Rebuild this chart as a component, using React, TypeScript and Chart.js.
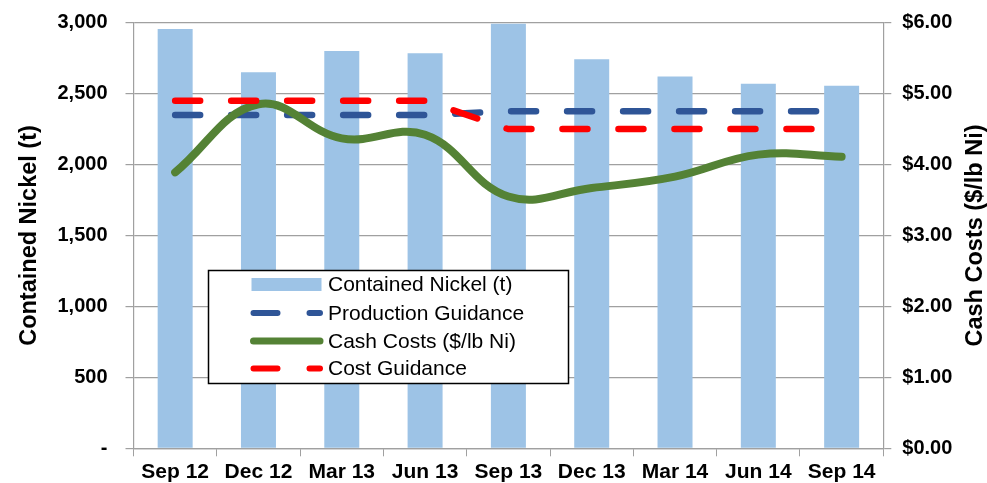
import React, { useEffect, useRef } from "react";
import { Chart, registerables } from "chart.js";

Chart.register(...registerables);

const categories = ["Sep 12", "Dec 12", "Mar 13", "Jun 13", "Sep 13", "Dec 13", "Mar 14", "Jun 14", "Sep 14"];
const containedNickel = [2955, 2650, 2800, 2785, 2992, 2742, 2621, 2569, 2555];
const productionGuidance = [2350, 2350, 2350, 2350, 2375, 2375, 2375, 2375, 2375];
const cashCosts = [3.89, 4.85, 4.37, 4.42, 3.55, 3.67, 3.83, 4.14, 4.11];
const costGuidance = [4.9, 4.9, 4.9, 4.9, 4.5, 4.5, 4.5, 4.5, 4.5];
const leftTitle = "Contained Nickel (t)";
const rightTitle = "Cash Costs ($/lb Ni)";

const FONT = "'Liberation Sans', Arial, Helvetica, sans-serif";
const GRID = "#a0a0a0";
const BAR = "#9dc3e6";
const BLUE = "#2f5597";
const GREEN = "#548235";
const RED = "#ff0000";

const rightTitlePlugin = {
  id: "rightTitle",
  afterDraw(chart: any) {
    const ctx = chart.ctx;
    const area = chart.chartArea;
    ctx.save();
    ctx.translate(976, (area.top + area.bottom) / 2);
    ctx.rotate(-Math.PI / 2);
    ctx.fillStyle = "#000";
    ctx.font = `bold 23.5px ${FONT}`;
    ctx.textAlign = "center";
    ctx.textBaseline = "middle";
    ctx.fillText(rightTitle, 0, 0);
    ctx.restore();
  },
};

const legendPlugin = {
  id: "boxLegend",
  afterDraw(chart: any) {
    const ctx = chart.ctx;
    const x0 = 208.5, y0 = 270.5, w = 360, h = 113;
    ctx.save();
    ctx.fillStyle = "#ffffff";
    ctx.fillRect(x0, y0, w, h);
    ctx.strokeStyle = "#000000";
    ctx.lineWidth = 1.5;
    ctx.strokeRect(x0, y0, w, h);
    const ds = chart.data.datasets;
    const order = [0, 1, 2, 3];
    const rowY = [284.5, 313, 341, 368.5];
    order.forEach((di, i) => {
      const d = ds[di];
      const y = rowY[i];
      if (d.type === "bar") {
        ctx.fillStyle = d.backgroundColor;
        ctx.fillRect(251.5, y - 6.5, 70, 13);
      } else {
        ctx.strokeStyle = d.borderColor;
        ctx.lineWidth = d.borderDash ? 6 : 7;
        ctx.lineCap = "round";
        ctx.setLineDash(d.borderDash ? [24, 32] : []);
        ctx.beginPath();
        ctx.moveTo(253.5, y);
        ctx.lineTo(320, y);
        ctx.stroke();
        ctx.setLineDash([]);
      }
      ctx.fillStyle = "#000000";
      ctx.font = `21px ${FONT}`;
      ctx.textBaseline = "middle";
      ctx.textAlign = "left";
      ctx.fillText(d.label, 328, y + 1);
    });
    ctx.restore();
  },
};

export default function App() {
  const ref = useRef<HTMLCanvasElement>(null);
  useEffect(() => {
    if (!ref.current) return;
    const chart = new Chart(ref.current, {
      data: {
        labels: categories,
        datasets: [
          {
            type: "bar",
            label: "Contained Nickel (t)",
            data: containedNickel,
            backgroundColor: BAR,
            yAxisID: "y",
            barPercentage: 0.42,
            categoryPercentage: 1,
            order: 4,
          },
          {
            type: "line",
            label: "Production Guidance",
            data: productionGuidance,
            borderColor: BLUE,
            backgroundColor: BLUE,
            borderWidth: 6.5,
            borderDash: [25, 31],
            borderCapStyle: "round",
            pointRadius: 0,
            tension: 0,
            yAxisID: "y",
            order: 3,
          },
          {
            type: "line",
            label: "Cash Costs ($/lb Ni)",
            data: cashCosts,
            borderColor: GREEN,
            backgroundColor: GREEN,
            borderWidth: 8,
            borderCapStyle: "round",
            borderJoinStyle: "round",
            pointRadius: 0,
            tension: 0.4,
            yAxisID: "y1",
            order: 2,
          },
          {
            type: "line",
            label: "Cost Guidance",
            data: costGuidance,
            borderColor: RED,
            backgroundColor: RED,
            borderWidth: 6.5,
            borderDash: [25, 31],
            borderCapStyle: "round",
            pointRadius: 0,
            tension: 0,
            yAxisID: "y1",
            order: 1,
          },
        ],
      } as any,
      plugins: [legendPlugin, rightTitlePlugin],
      options: {
        responsive: false,
        animation: false,
        layout: { padding: { top: 22.7, bottom: 0, left: 0, right: 0 } },
        plugins: { legend: { display: false }, tooltip: { enabled: false } },
        scales: {
          x: {
            offset: true,
            grid: { display: true, drawOnChartArea: false, drawTicks: true, tickLength: 8, color: GRID, offset: true },
            border: { display: true, color: GRID, width: 1.2 },
            ticks: { color: "#000", font: { family: FONT, size: 21, weight: "bold" }, padding: 3, maxRotation: 0, autoSkip: false },
            afterFit(scale: any) {
              scale.height = 34.7;
              scale.paddingLeft = 0;
              scale.paddingRight = 0;
            },
          },
          y: {
            position: "left",
            min: 0,
            max: 3000,
            ticks: {
              stepSize: 500,
              color: "#000",
              font: { family: FONT, size: 20, weight: "bold" },
              padding: 18,
              callback: (v: any) => (Number(v) === 0 ? "-" : Number(v).toLocaleString("en-US")),
            },
            grid: { color: GRID, lineWidth: 1.2, tickLength: 8 },
            border: { display: true, color: GRID, width: 1.2 },
            title: {
              display: true,
              text: leftTitle,
              color: "#000",
              font: { family: FONT, size: 23.5, weight: "bold", lineHeight: 1 },
              padding: { top: 18, bottom: 0 },
            },
            afterFit(scale: any) {
              scale.width = 133.5;
              scale.paddingTop = 0;
              scale.paddingBottom = 0;
            },
          },
          y1: {
            position: "right",
            min: 0,
            max: 6,
            ticks: {
              stepSize: 1,
              color: "#000",
              font: { family: FONT, size: 20, weight: "bold" },
              padding: 11,
              callback: (v: any) => "$" + Number(v).toFixed(2),
            },
            grid: { drawOnChartArea: false, color: GRID, lineWidth: 1.2, tickLength: 8 },
            border: { display: true, color: GRID, width: 1.2 },
            title: { display: false },
            afterFit(scale: any) {
              scale.width = 103.7;
              scale.paddingTop = 0;
              scale.paddingBottom = 0;
            },
          },
        },
      } as any,
    });
    return () => chart.destroy();
  }, []);
  return (
    <canvas
      ref={ref}
      width={987}
      height={483}
      style={{ position: "fixed", left: 0, top: 0, width: 987, height: 483, display: "block", background: "#fff" }}
    />
  );
}
